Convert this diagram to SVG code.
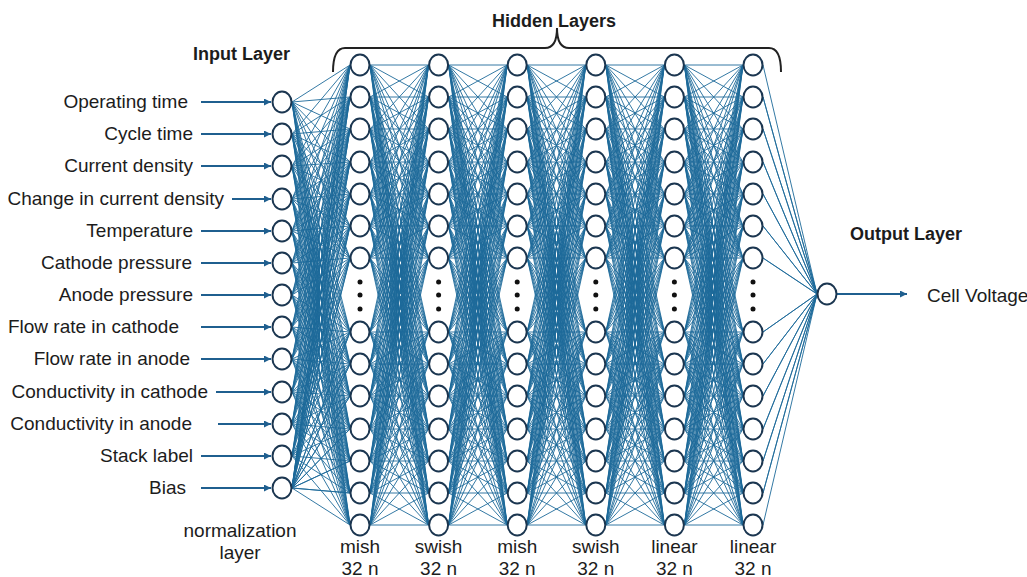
<svg xmlns="http://www.w3.org/2000/svg" xmlns:xlink="http://www.w3.org/1999/xlink" width="1027" height="577" viewBox="0 0 1027 577">
<style>
text{font-family:"Liberation Sans",Arial,sans-serif;font-size:19px;fill:#1c1c1c}
.t{font-weight:bold;font-size:18px}
.e{text-anchor:end}
.m{text-anchor:middle}
.edge{fill:none;stroke:#1d6a9a;stroke-width:0.9;stroke-linejoin:round}
.arr{fill:none;stroke:#1f5f8f;stroke-width:2}
.n{fill:#fff;stroke:#1b3650;stroke-width:2}
.dot{fill:#111}
.brace{fill:none;stroke:#222;stroke-width:2}
</style>
<defs>
<marker id="ah" viewBox="0 0 7 7" refX="7" refY="3.5" markerWidth="7" markerHeight="7" markerUnits="userSpaceOnUse" orient="auto"><path d="M0 0L7 3.5 0 7z" fill="#1f5f8f"/></marker>
<g id="hh" class="edge">
<path d="M0 65L58.6 65 0 97 58.6 97 0 65 58.6 129 0 97 58.6 162 0 65 58.6 194 0 97 58.6 226 0 65 58.6 258 0 97 58.6 332 0 65 58.6 364 0 97 58.6 396 0 65 58.6 429 0 97 58.6 461 0 65 58.6 493 0 97 58.6 525 0 65"/>
<path d="M0 129L58.6 65 0 162 58.6 97 0 129 58.6 129 0 162 58.6 162 0 129 58.6 194 0 162 58.6 226 0 129 58.6 258 0 162 58.6 332 0 129 58.6 364 0 162 58.6 396 0 129 58.6 429 0 162 58.6 461 0 129 58.6 493 0 162 58.6 525 0 129"/>
<path d="M0 194L58.6 65 0 226 58.6 97 0 194 58.6 129 0 226 58.6 162 0 194 58.6 194 0 226 58.6 226 0 194 58.6 258 0 226 58.6 332 0 194 58.6 364 0 226 58.6 396 0 194 58.6 429 0 226 58.6 461 0 194 58.6 493 0 226 58.6 525 0 194"/>
<path d="M0 258L58.6 65 0 332 58.6 97 0 258 58.6 129 0 332 58.6 162 0 258 58.6 194 0 332 58.6 226 0 258 58.6 258 0 332 58.6 332 0 258 58.6 364 0 332 58.6 396 0 258 58.6 429 0 332 58.6 461 0 258 58.6 493 0 332 58.6 525 0 258"/>
<path d="M0 364L58.6 65 0 396 58.6 97 0 364 58.6 129 0 396 58.6 162 0 364 58.6 194 0 396 58.6 226 0 364 58.6 258 0 396 58.6 332 0 364 58.6 364 0 396 58.6 396 0 364 58.6 429 0 396 58.6 461 0 364 58.6 493 0 396 58.6 525 0 364"/>
<path d="M0 429L58.6 65 0 461 58.6 97 0 429 58.6 129 0 461 58.6 162 0 429 58.6 194 0 461 58.6 226 0 429 58.6 258 0 461 58.6 332 0 429 58.6 364 0 461 58.6 396 0 429 58.6 429 0 461 58.6 461 0 429 58.6 493 0 461 58.6 525 0 429"/>
<path d="M0 493L58.6 65 0 525 58.6 97 0 493 58.6 129 0 525 58.6 162 0 493 58.6 194 0 525 58.6 226 0 493 58.6 258 0 525 58.6 332 0 493 58.6 364 0 525 58.6 396 0 493 58.6 429 0 525 58.6 461 0 493 58.6 493 0 525 58.6 525 0 493"/>
</g>
</defs>
<rect width="1027" height="577" fill="#fff"/>

<g id="connectors">
<g class="edge" transform="translate(292,0)">
<path d="M0 102L58 65 0 134 58 97 0 102 58 129 0 134 58 162 0 102 58 194 0 134 58 226 0 102 58 258 0 134 58 332 0 102 58 364 0 134 58 396 0 102 58 429 0 134 58 461 0 102 58 493 0 134 58 525 0 102"/>
<path d="M0 166L58 65 0 199 58 97 0 166 58 129 0 199 58 162 0 166 58 194 0 199 58 226 0 166 58 258 0 199 58 332 0 166 58 364 0 199 58 396 0 166 58 429 0 199 58 461 0 166 58 493 0 199 58 525 0 166"/>
<path d="M0 231L58 65 0 263 58 97 0 231 58 129 0 263 58 162 0 231 58 194 0 263 58 226 0 231 58 258 0 263 58 332 0 231 58 364 0 263 58 396 0 231 58 429 0 263 58 461 0 231 58 493 0 263 58 525 0 231"/>
<path d="M0 295L58 65 0 327 58 97 0 295 58 129 0 327 58 162 0 295 58 194 0 327 58 226 0 295 58 258 0 327 58 332 0 295 58 364 0 327 58 396 0 295 58 429 0 327 58 461 0 295 58 493 0 327 58 525 0 295"/>
<path d="M0 359L58 65 0 392 58 97 0 359 58 129 0 392 58 162 0 359 58 194 0 392 58 226 0 359 58 258 0 392 58 332 0 359 58 364 0 392 58 396 0 359 58 429 0 392 58 461 0 359 58 493 0 392 58 525 0 359"/>
<path d="M0 424L58 65 0 456 58 97 0 424 58 129 0 456 58 162 0 424 58 194 0 456 58 226 0 424 58 258 0 456 58 332 0 424 58 364 0 456 58 396 0 424 58 429 0 456 58 461 0 424 58 493 0 456 58 525 0 424"/>
<path d="M0 488L58 65 0 488 58 97 0 488 58 129 0 488 58 162 0 488 58 194 0 488 58 226 0 488 58 258 0 488 58 332 0 488 58 364 0 488 58 396 0 488 58 429 0 488 58 461 0 488 58 493 0 488 58 525"/>
</g>
<use xlink:href="#hh" href="#hh" transform="translate(370,0)"/>
<use xlink:href="#hh" href="#hh" transform="translate(448.6,0)"/>
<use xlink:href="#hh" href="#hh" transform="translate(527.2,0)"/>
<use xlink:href="#hh" href="#hh" transform="translate(605.8,0)"/>
<use xlink:href="#hh" href="#hh" transform="translate(684.4,0)"/>
<path class="edge" d="M763 65L817 294 763 97 817 294 763 129 817 294 763 162 817 294 763 194 817 294 763 226 817 294 763 258 817 294 763 332 817 294 763 364 817 294 763 396 817 294 763 429 817 294 763 461 817 294 763 493 817 294 763 525"/>
<g class="arr">
<line x1="201" y1="102" x2="271" y2="102" marker-end="url(#ah)"/>
<line x1="201" y1="134" x2="271" y2="134" marker-end="url(#ah)"/>
<line x1="201" y1="166" x2="271" y2="166" marker-end="url(#ah)"/>
<line x1="232" y1="199" x2="271" y2="199" marker-end="url(#ah)"/>
<line x1="201" y1="231" x2="271" y2="231" marker-end="url(#ah)"/>
<line x1="201" y1="263" x2="271" y2="263" marker-end="url(#ah)"/>
<line x1="201" y1="295" x2="271" y2="295" marker-end="url(#ah)"/>
<line x1="201" y1="327" x2="271" y2="327" marker-end="url(#ah)"/>
<line x1="201" y1="359" x2="271" y2="359" marker-end="url(#ah)"/>
<line x1="216" y1="392" x2="271" y2="392" marker-end="url(#ah)"/>
<line x1="218" y1="424" x2="271" y2="424" marker-end="url(#ah)"/>
<line x1="201" y1="456" x2="271" y2="456" marker-end="url(#ah)"/>
<line x1="201" y1="488" x2="271" y2="488" marker-end="url(#ah)"/>
<line x1="837" y1="294" x2="907" y2="294" marker-end="url(#ah)"/>
</g>
</g>

<g id="input-layer" class="n">
<g id="in-1"><ellipse cx="282" cy="102" rx="9.5" ry="10.5"/></g>
<g id="in-2"><ellipse cx="282" cy="134" rx="9.5" ry="10.5"/></g>
<g id="in-3"><ellipse cx="282" cy="166" rx="9.5" ry="10.5"/></g>
<g id="in-4"><ellipse cx="282" cy="199" rx="9.5" ry="10.5"/></g>
<g id="in-5"><ellipse cx="282" cy="231" rx="9.5" ry="10.5"/></g>
<g id="in-6"><ellipse cx="282" cy="263" rx="9.5" ry="10.5"/></g>
<g id="in-7"><ellipse cx="282" cy="295" rx="9.5" ry="10.5"/></g>
<g id="in-8"><ellipse cx="282" cy="327" rx="9.5" ry="10.5"/></g>
<g id="in-9"><ellipse cx="282" cy="359" rx="9.5" ry="10.5"/></g>
<g id="in-10"><ellipse cx="282" cy="392" rx="9.5" ry="10.5"/></g>
<g id="in-11"><ellipse cx="282" cy="424" rx="9.5" ry="10.5"/></g>
<g id="in-12"><ellipse cx="282" cy="456" rx="9.5" ry="10.5"/></g>
<g id="in-13"><ellipse cx="282" cy="488" rx="9.5" ry="10.5"/></g>
</g>

<g id="hidden-1" class="n">
<g id="h1-1"><ellipse cx="360" cy="65" rx="9.5" ry="10.5"/></g>
<g id="h1-2"><ellipse cx="360" cy="97" rx="9.5" ry="10.5"/></g>
<g id="h1-3"><ellipse cx="360" cy="129" rx="9.5" ry="10.5"/></g>
<g id="h1-4"><ellipse cx="360" cy="162" rx="9.5" ry="10.5"/></g>
<g id="h1-5"><ellipse cx="360" cy="194" rx="9.5" ry="10.5"/></g>
<g id="h1-6"><ellipse cx="360" cy="226" rx="9.5" ry="10.5"/></g>
<g id="h1-7"><ellipse cx="360" cy="258" rx="9.5" ry="10.5"/></g>
<g id="h1-8"><ellipse cx="360" cy="332" rx="9.5" ry="10.5"/></g>
<g id="h1-9"><ellipse cx="360" cy="364" rx="9.5" ry="10.5"/></g>
<g id="h1-10"><ellipse cx="360" cy="396" rx="9.5" ry="10.5"/></g>
<g id="h1-11"><ellipse cx="360" cy="429" rx="9.5" ry="10.5"/></g>
<g id="h1-12"><ellipse cx="360" cy="461" rx="9.5" ry="10.5"/></g>
<g id="h1-13"><ellipse cx="360" cy="493" rx="9.5" ry="10.5"/></g>
<g id="h1-14"><ellipse cx="360" cy="525" rx="9.5" ry="10.5"/></g>
</g>
<g id="hidden-2" class="n">
<g id="h2-1"><ellipse cx="438.6" cy="65" rx="9.5" ry="10.5"/></g>
<g id="h2-2"><ellipse cx="438.6" cy="97" rx="9.5" ry="10.5"/></g>
<g id="h2-3"><ellipse cx="438.6" cy="129" rx="9.5" ry="10.5"/></g>
<g id="h2-4"><ellipse cx="438.6" cy="162" rx="9.5" ry="10.5"/></g>
<g id="h2-5"><ellipse cx="438.6" cy="194" rx="9.5" ry="10.5"/></g>
<g id="h2-6"><ellipse cx="438.6" cy="226" rx="9.5" ry="10.5"/></g>
<g id="h2-7"><ellipse cx="438.6" cy="258" rx="9.5" ry="10.5"/></g>
<g id="h2-8"><ellipse cx="438.6" cy="332" rx="9.5" ry="10.5"/></g>
<g id="h2-9"><ellipse cx="438.6" cy="364" rx="9.5" ry="10.5"/></g>
<g id="h2-10"><ellipse cx="438.6" cy="396" rx="9.5" ry="10.5"/></g>
<g id="h2-11"><ellipse cx="438.6" cy="429" rx="9.5" ry="10.5"/></g>
<g id="h2-12"><ellipse cx="438.6" cy="461" rx="9.5" ry="10.5"/></g>
<g id="h2-13"><ellipse cx="438.6" cy="493" rx="9.5" ry="10.5"/></g>
<g id="h2-14"><ellipse cx="438.6" cy="525" rx="9.5" ry="10.5"/></g>
</g>
<g id="hidden-3" class="n">
<g id="h3-1"><ellipse cx="517.2" cy="65" rx="9.5" ry="10.5"/></g>
<g id="h3-2"><ellipse cx="517.2" cy="97" rx="9.5" ry="10.5"/></g>
<g id="h3-3"><ellipse cx="517.2" cy="129" rx="9.5" ry="10.5"/></g>
<g id="h3-4"><ellipse cx="517.2" cy="162" rx="9.5" ry="10.5"/></g>
<g id="h3-5"><ellipse cx="517.2" cy="194" rx="9.5" ry="10.5"/></g>
<g id="h3-6"><ellipse cx="517.2" cy="226" rx="9.5" ry="10.5"/></g>
<g id="h3-7"><ellipse cx="517.2" cy="258" rx="9.5" ry="10.5"/></g>
<g id="h3-8"><ellipse cx="517.2" cy="332" rx="9.5" ry="10.5"/></g>
<g id="h3-9"><ellipse cx="517.2" cy="364" rx="9.5" ry="10.5"/></g>
<g id="h3-10"><ellipse cx="517.2" cy="396" rx="9.5" ry="10.5"/></g>
<g id="h3-11"><ellipse cx="517.2" cy="429" rx="9.5" ry="10.5"/></g>
<g id="h3-12"><ellipse cx="517.2" cy="461" rx="9.5" ry="10.5"/></g>
<g id="h3-13"><ellipse cx="517.2" cy="493" rx="9.5" ry="10.5"/></g>
<g id="h3-14"><ellipse cx="517.2" cy="525" rx="9.5" ry="10.5"/></g>
</g>
<g id="hidden-4" class="n">
<g id="h4-1"><ellipse cx="595.8" cy="65" rx="9.5" ry="10.5"/></g>
<g id="h4-2"><ellipse cx="595.8" cy="97" rx="9.5" ry="10.5"/></g>
<g id="h4-3"><ellipse cx="595.8" cy="129" rx="9.5" ry="10.5"/></g>
<g id="h4-4"><ellipse cx="595.8" cy="162" rx="9.5" ry="10.5"/></g>
<g id="h4-5"><ellipse cx="595.8" cy="194" rx="9.5" ry="10.5"/></g>
<g id="h4-6"><ellipse cx="595.8" cy="226" rx="9.5" ry="10.5"/></g>
<g id="h4-7"><ellipse cx="595.8" cy="258" rx="9.5" ry="10.5"/></g>
<g id="h4-8"><ellipse cx="595.8" cy="332" rx="9.5" ry="10.5"/></g>
<g id="h4-9"><ellipse cx="595.8" cy="364" rx="9.5" ry="10.5"/></g>
<g id="h4-10"><ellipse cx="595.8" cy="396" rx="9.5" ry="10.5"/></g>
<g id="h4-11"><ellipse cx="595.8" cy="429" rx="9.5" ry="10.5"/></g>
<g id="h4-12"><ellipse cx="595.8" cy="461" rx="9.5" ry="10.5"/></g>
<g id="h4-13"><ellipse cx="595.8" cy="493" rx="9.5" ry="10.5"/></g>
<g id="h4-14"><ellipse cx="595.8" cy="525" rx="9.5" ry="10.5"/></g>
</g>
<g id="hidden-5" class="n">
<g id="h5-1"><ellipse cx="674.4" cy="65" rx="9.5" ry="10.5"/></g>
<g id="h5-2"><ellipse cx="674.4" cy="97" rx="9.5" ry="10.5"/></g>
<g id="h5-3"><ellipse cx="674.4" cy="129" rx="9.5" ry="10.5"/></g>
<g id="h5-4"><ellipse cx="674.4" cy="162" rx="9.5" ry="10.5"/></g>
<g id="h5-5"><ellipse cx="674.4" cy="194" rx="9.5" ry="10.5"/></g>
<g id="h5-6"><ellipse cx="674.4" cy="226" rx="9.5" ry="10.5"/></g>
<g id="h5-7"><ellipse cx="674.4" cy="258" rx="9.5" ry="10.5"/></g>
<g id="h5-8"><ellipse cx="674.4" cy="332" rx="9.5" ry="10.5"/></g>
<g id="h5-9"><ellipse cx="674.4" cy="364" rx="9.5" ry="10.5"/></g>
<g id="h5-10"><ellipse cx="674.4" cy="396" rx="9.5" ry="10.5"/></g>
<g id="h5-11"><ellipse cx="674.4" cy="429" rx="9.5" ry="10.5"/></g>
<g id="h5-12"><ellipse cx="674.4" cy="461" rx="9.5" ry="10.5"/></g>
<g id="h5-13"><ellipse cx="674.4" cy="493" rx="9.5" ry="10.5"/></g>
<g id="h5-14"><ellipse cx="674.4" cy="525" rx="9.5" ry="10.5"/></g>
</g>
<g id="hidden-6" class="n">
<g id="h6-1"><ellipse cx="753" cy="65" rx="9.5" ry="10.5"/></g>
<g id="h6-2"><ellipse cx="753" cy="97" rx="9.5" ry="10.5"/></g>
<g id="h6-3"><ellipse cx="753" cy="129" rx="9.5" ry="10.5"/></g>
<g id="h6-4"><ellipse cx="753" cy="162" rx="9.5" ry="10.5"/></g>
<g id="h6-5"><ellipse cx="753" cy="194" rx="9.5" ry="10.5"/></g>
<g id="h6-6"><ellipse cx="753" cy="226" rx="9.5" ry="10.5"/></g>
<g id="h6-7"><ellipse cx="753" cy="258" rx="9.5" ry="10.5"/></g>
<g id="h6-8"><ellipse cx="753" cy="332" rx="9.5" ry="10.5"/></g>
<g id="h6-9"><ellipse cx="753" cy="364" rx="9.5" ry="10.5"/></g>
<g id="h6-10"><ellipse cx="753" cy="396" rx="9.5" ry="10.5"/></g>
<g id="h6-11"><ellipse cx="753" cy="429" rx="9.5" ry="10.5"/></g>
<g id="h6-12"><ellipse cx="753" cy="461" rx="9.5" ry="10.5"/></g>
<g id="h6-13"><ellipse cx="753" cy="493" rx="9.5" ry="10.5"/></g>
<g id="h6-14"><ellipse cx="753" cy="525" rx="9.5" ry="10.5"/></g>
</g>
<g id="output-node" class="n"><ellipse cx="827" cy="294" rx="9.5" ry="10.5"/></g>

<g id="ellipsis-dots" class="dot">
<circle cx="360" cy="282" r="2.5"/><circle cx="360" cy="295" r="2.5"/><circle cx="360" cy="309" r="2.5"/>
<circle cx="438.6" cy="282" r="2.5"/><circle cx="438.6" cy="295" r="2.5"/><circle cx="438.6" cy="309" r="2.5"/>
<circle cx="517.2" cy="282" r="2.5"/><circle cx="517.2" cy="295" r="2.5"/><circle cx="517.2" cy="309" r="2.5"/>
<circle cx="595.8" cy="282" r="2.5"/><circle cx="595.8" cy="295" r="2.5"/><circle cx="595.8" cy="309" r="2.5"/>
<circle cx="674.4" cy="282" r="2.5"/><circle cx="674.4" cy="295" r="2.5"/><circle cx="674.4" cy="309" r="2.5"/>
<circle cx="753" cy="282" r="2.5"/><circle cx="753" cy="295" r="2.5"/><circle cx="753" cy="309" r="2.5"/>
</g>

<path id="hidden-brace" class="brace" d="M333 72Q333 48 345 48L545 48Q557 48 557 28Q557 48 569 48L769 48Q781 48 781 72"/>

<g id="titles">
<text class="t" x="193" y="60">Input Layer</text>
<text class="t m" x="554" y="27">Hidden Layers</text>
<text class="t" x="850" y="240">Output Layer</text>
</g>

<g id="input-labels" class="e">
<text x="188" y="108">Operating time</text>
<text x="193" y="140">Cycle time</text>
<text x="193" y="172">Current density</text>
<text x="224" y="205">Change in current density</text>
<text x="193" y="237">Temperature</text>
<text x="192" y="269">Cathode pressure</text>
<text x="193" y="301">Anode pressure</text>
<text x="179" y="333">Flow rate in cathode</text>
<text x="190" y="365">Flow rate in anode</text>
<text x="208" y="398">Conductivity in cathode</text>
<text x="192" y="430">Conductivity in anode</text>
<text x="193" y="462">Stack label</text>
<text x="186" y="494">Bias</text>
</g>

<g id="layer-labels" class="m">
<text x="240" y="537">normalization</text>
<text x="240" y="559">layer</text>
<text x="360" y="553">mish</text><text x="360" y="575">32 n</text>
<text x="438.6" y="553">swish</text><text x="438.6" y="575">32 n</text>
<text x="517.2" y="553">mish</text><text x="517.2" y="575">32 n</text>
<text x="595.8" y="553">swish</text><text x="595.8" y="575">32 n</text>
<text x="674.4" y="553">linear</text><text x="674.4" y="575">32 n</text>
<text x="753" y="553">linear</text><text x="753" y="575">32 n</text>
</g>

<text id="output-label" x="927" y="302">Cell Voltage</text>
</svg>
